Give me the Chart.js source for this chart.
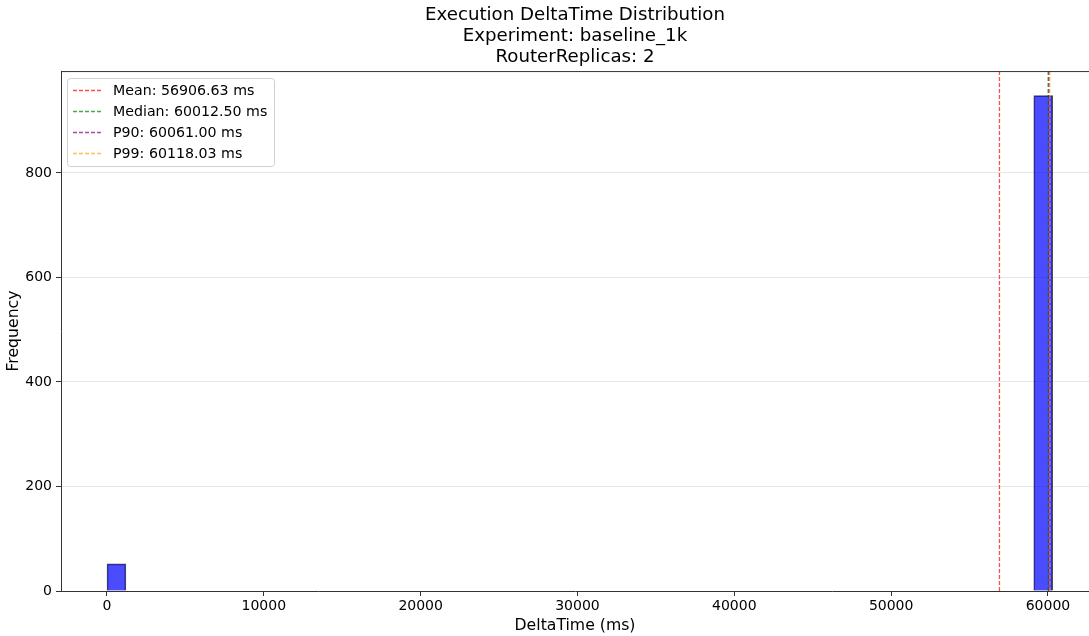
<!DOCTYPE html>
<html>
<head>
<meta charset="utf-8">
<script src="https://cdn.jsdelivr.net/npm/chart.js@4"></script>
<style>
  html, body { margin: 0; padding: 0; background: #fff; }
  #wrap { width: 1089px; height: 636px; }
</style>
</head>
<body>
<div id="wrap"><canvas id="myChart" width="1089" height="636"></canvas></div>
<script>
// histogram bins (ms) and counts
const binStart = 0;
const binWidth = 1206;
const counts = [52, 0, 0, 0, 0, 0, 0, 0, 0, 0,
                0, 0, 0, 0, 0, 0, 0, 0, 0, 0,
                0, 0, 0, 0, 0, 0, 0, 0, 0, 0,
                0, 0, 0, 0, 0, 0, 0, 0, 0, 0,
                0, 0, 0, 0, 0, 0, 0, 0, 0, 948];

const statNames = ['Mean', 'Median', 'P90', 'P99'];
const statValues = [56906.63, 60012.50, 60061.00, 60118.03];
const statColors = ['rgba(255,0,0,0.7)', 'rgba(0,128,0,0.7)', 'rgba(128,0,128,0.7)', 'rgba(255,165,0,0.7)'];

const titleLines = ['Execution DeltaTime Distribution', 'Experiment: baseline_1k', 'RouterReplicas: 2'];
const xTicks = [0, 10000, 20000, 30000, 40000, 50000, 60000];
const yTicks = [0, 200, 400, 600, 800];
const xRange = [-2933, 62616];
const yRange = [0, 995];

const FONT = "'DejaVu Sans', sans-serif";
const ctx = document.getElementById('myChart').getContext('2d');

const histData = counts.map((c, i) => ({ x: binStart + (i + 0.5) * binWidth, y: c }));

const lineSets = statNames.map((n, i) => ({
    type: 'line',
    label: n + ': ' + statValues[i].toFixed(2) + ' ms',
    data: [{ x: statValues[i], y: yRange[0] }, { x: statValues[i], y: yRange[1] }],
    borderColor: statColors[i],
    borderWidth: 1.3,
    borderDash: [4, 2],
    pointRadius: 0,
    fill: false,
    order: 4 - i
}));

// legend box inside the plot, like matplotlib's
const boxLegend = {
    id: 'boxLegend',
    afterDraw(chart) {
        const c = chart.ctx;
        const x0 = 67, y0 = 78, w = 207, h = 88;
        c.save();
        c.fillStyle = 'rgba(255,255,255,0.85)';
        c.strokeStyle = '#d0d0d0';
        c.lineWidth = 1;
        c.beginPath();
        c.roundRect(x0 + 0.5, y0 + 0.5, w, h, 3);
        c.fill();
        c.stroke();
        c.font = '14.2px ' + FONT;
        c.textBaseline = 'middle';
        lineSets.forEach((ds, i) => {
            const y = y0 + 12 + i * 21;
            c.strokeStyle = ds.borderColor;
            c.lineWidth = 1.3;
            c.setLineDash([4, 2]);
            c.beginPath();
            c.moveTo(73, y + 0.5);
            c.lineTo(103, y + 0.5);
            c.stroke();
            c.setLineDash([]);
            c.fillStyle = '#000';
            c.fillText(ds.label, 113, y + 1);
        });
        c.restore();
    }
};

// top spine
const topSpine = {
    id: 'topSpine',
    afterDatasetsDraw(chart) {
        const a = chart.chartArea, c = chart.ctx;
        c.save();
        c.strokeStyle = '#333';
        c.lineWidth = 1;
        c.beginPath();
        c.moveTo(a.left, a.top + 0.5);
        c.lineTo(a.right, a.top + 0.5);
        c.stroke();
        c.restore();
    }
};

const myChart = new Chart(ctx, {
    type: 'bar',
    data: {
        datasets: [{
            label: 'hist',
            data: histData,
            backgroundColor: 'rgba(0,0,255,0.7)',
            borderColor: 'rgba(0,0,0,0.7)',
            borderWidth: 1,
            barPercentage: 1,
            categoryPercentage: 1,
            order: 10
        }, ...lineSets]
    },
    plugins: [topSpine, boxLegend],
    options: {
        responsive: false,
        animation: false,
        devicePixelRatio: 1,
        layout: { padding: { left: 0, right: 0, top: 0, bottom: 0 } },
        plugins: {
            legend: { display: false },
            tooltip: { enabled: false },
            title: {
                display: true,
                fullSize: false,
                text: titleLines,
                color: '#000',
                font: { family: FONT, size: 18.2, weight: 'normal', lineHeight: 1.155 },
                padding: { top: 5, bottom: 3 }
            }
        },
        scales: {
            x: {
                type: 'linear',
                min: xRange[0],
                max: xRange[1],
                offset: false,
                afterBuildTicks: s => { s.ticks = xTicks.map(v => ({ value: v })); },
                afterFit: s => { s.height = 45; },
                ticks: {
                    color: '#000',
                    font: { family: FONT, size: 14 },
                    padding: 2,
                    maxRotation: 0,
                    callback: v => String(v)
                },
                grid: { display: true, drawOnChartArea: false, offset: false, tickLength: 5, tickColor: '#333' },
                border: { color: '#333', width: 1 },
                title: {
                    display: true,
                    text: 'DeltaTime (ms)',
                    color: '#000',
                    font: { family: FONT, size: 15.7 },
                    padding: { top: 0, bottom: 1 }
                }
            },
            y: {
                min: yRange[0],
                max: yRange[1],
                afterBuildTicks: s => { s.ticks = yTicks.map(v => ({ value: v })); },
                afterFit: s => { s.width = 61; },
                ticks: {
                    color: '#000',
                    font: { family: FONT, size: 14 },
                    padding: 4,
                    callback: v => String(v)
                },
                grid: {
                    color: c => c.tick && c.tick.value === 0 ? 'rgba(0,0,0,0)' : '#e6e6e6',
                    tickLength: 5,
                    tickColor: '#333'
                },
                border: { color: '#333', width: 1 },
                title: {
                    display: true,
                    text: 'Frequency',
                    color: '#000',
                    font: { family: FONT, size: 15.7 },
                    padding: { top: 5, bottom: 0 }
                }
            }
        }
    }
});
</script>
</body>
</html>
